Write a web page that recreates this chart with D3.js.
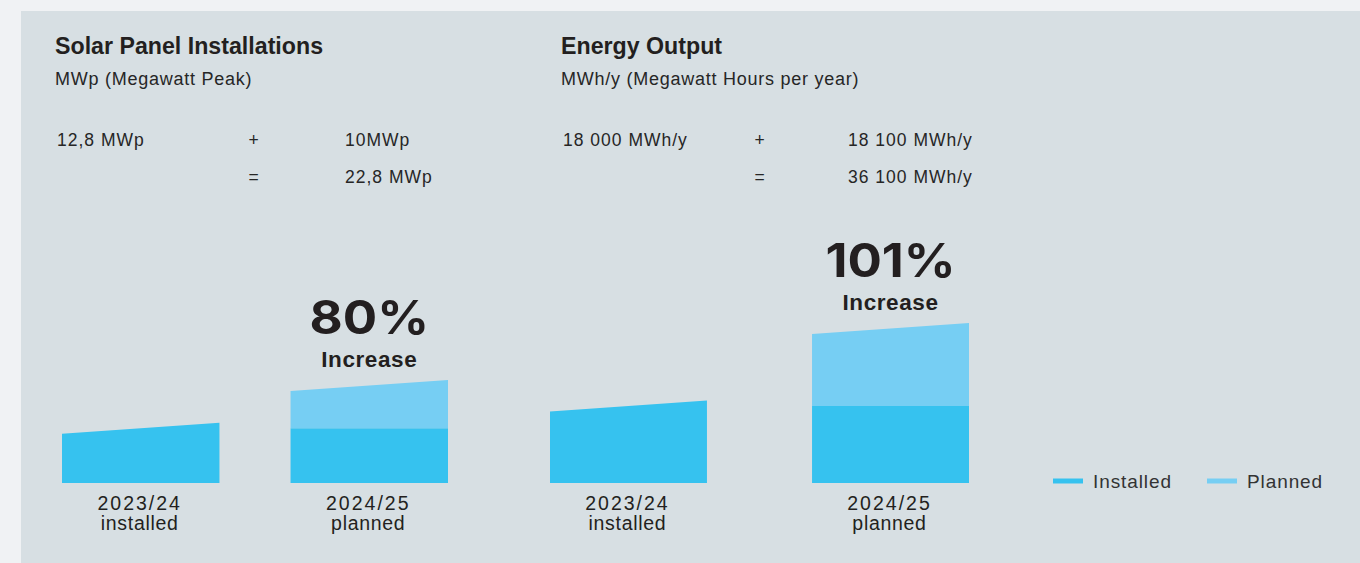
<!DOCTYPE html>
<html>
<head>
<meta charset="utf-8">
<script src="https://cdn.jsdelivr.net/npm/d3@7"></script>
<style>
  body { margin: 0; background: #f0f2f4; overflow: hidden; }
</style>
</head>
<body>
<div id="vizcontainer"></div>
<script>
// ---- data ----
const periods = ['2023/24', '2024/25'];
const statuses = ['installed', 'planned'];
const series = ['Installed', 'Planned'];

const titles = ['Solar Panel Installations', 'Energy Output'];
const subtitles = ['MWp (Megawatt Peak)', 'MWh/y (Megawatt Hours per year)'];

const solarInstalled = [12.8, 12.8];
const solarPlanned = [0, 10];
const solarRows = [['12,8 MWp', '+', '10MWp'], ['', '=', '22,8 MWp']];
const solarIncrease = ['80%', 'Increase'];

const energyInstalled = [18000, 18000];
const energyPlanned = [0, 18100];
const energyRows = [['18 000 MWh/y', '+', '18 100 MWh/y'], ['', '=', '36 100 MWh/y']];
const energyIncrease = ['101%', 'Increase'];

const
  width = 1360,
  height = 563,
  baseline = 483,
  tilt = 5.5,
  colors = ['#36c2ef', '#76cef3'], // installed, planned
  font = "'Liberation Sans', Arial, sans-serif",
  ink = '#231f20'
  ;

const svg = d3.select('#vizcontainer')
  .append('svg')
  .attr('width', width)
  .attr('height', height);

svg.append('rect')
  .attr('x', 21)
  .attr('y', 11)
  .attr('width', width - 21)
  .attr('height', height - 11)
  .attr('fill', '#d7dfe3');

const color = d3.scaleOrdinal().domain(series).range(colors);

const charts = [
  { title: titles[0], subtitle: subtitles[0], rows: solarRows, increase: solarIncrease,
    installed: solarInstalled, planned: solarPlanned,
    x0: 55, xRange: [62, 448], pad: 0.311, topPx: 385.5, valCol: 290 },
  { title: titles[1], subtitle: subtitles[1], rows: energyRows, increase: energyIncrease,
    installed: energyInstalled, planned: energyPlanned,
    x0: 561, xRange: [550, 969], pad: 0.401, topPx: 328.6, valCol: 287 }
];

charts.forEach(c => {
  const g = svg.append('g');

  const totals = c.installed.map((v, i) => v + c.planned[i]);

  const x = d3.scaleBand()
    .domain(periods)
    .range(c.xRange)
    .paddingInner(c.pad)
    .paddingOuter(0);

  const y = d3.scaleLinear()
    .domain([0, d3.max(totals)])
    .range([baseline, c.topPx]);

  // headings
  g.append('text')
    .text(c.title)
    .attr('x', c.x0)
    .attr('y', 54)
    .attr('font-family', font)
    .attr('font-weight', 'bold')
    .attr('font-size', 23.2)
    .attr('fill', ink);

  g.append('text')
    .text(c.subtitle)
    .attr('x', c.x0)
    .attr('y', 85)
    .attr('font-family', font)
    .attr('font-size', 18)
    .attr('letter-spacing', 0.75)
    .attr('fill', '#262626');

  // sum rows
  const cols = [c.x0 + 2, c.x0 + 199, c.x0 + c.valCol];
  c.rows.forEach((row, r) => {
    g.append('g')
      .selectAll('text')
      .data(row)
      .join('text')
      .text(d => d)
      .attr('x', (d, i) => cols[i])
      .attr('y', 146 + r * 37)
      .attr('text-anchor', (d, i) => i == 1 ? 'middle' : 'start')
      .attr('font-family', font)
      .attr('font-size', 17.5)
      .attr('letter-spacing', 1)
      .attr('fill', '#262626');
  });

  // bars: stacked installed + planned, the top edge of the upper piece is tilted
  periods.forEach((p, i) => {
    const segs = [
      { key: series[0], y0: 0, y1: c.installed[i] },
      { key: series[1], y0: c.installed[i], y1: totals[i] }
    ].filter(s => s.y1 > s.y0);

    g.append('g')
      .selectAll('path')
      .data(segs)
      .join('path')
      .attr('d', (s, k) => {
        const x1 = x(p), x2 = x(p) + x.bandwidth();
        const t = k == segs.length - 1 ? tilt : 0;
        return d3.line()([
          [x1, y(s.y0)],
          [x1, y(s.y1) + t],
          [x2, y(s.y1) - t],
          [x2, y(s.y0)]
        ]) + 'Z';
      })
      .attr('fill', s => color(s.key));

    g.append('text')
      .attr('x', x(p) + x.bandwidth() / 2 - 1)
      .attr('y', 510)
      .attr('text-anchor', 'middle')
      .attr('font-family', font)
      .attr('font-size', 19.5)
      .attr('letter-spacing', 2)
      .attr('fill', ink)
      .text(p);

    g.append('text')
      .attr('x', x(p) + x.bandwidth() / 2 - 1)
      .attr('y', 530)
      .attr('text-anchor', 'middle')
      .attr('font-family', font)
      .attr('font-size', 19.5)
      .attr('letter-spacing', 0.7)
      .attr('fill', ink)
      .text(statuses[i]);
  });

  // increase callout above the planned bar
  const last = periods[periods.length - 1];
  const cx = x(last) + x.bandwidth() / 2;
  const top = y(d3.max(totals));

  g.append('text')
    .text(c.increase[0])
    .attr('transform', `translate(${cx},${top - 52}) scale(1.11,1)`)
    .attr('text-anchor', 'middle')
    .attr('font-family', "Inter, 'Liberation Sans', sans-serif")
    .attr('font-weight', 'bold')
    .attr('font-size', 46)
    .attr('fill', ink);

  g.append('text')
    .text(c.increase[1])
    .attr('x', cx)
    .attr('y', top - 18.5)
    .attr('text-anchor', 'middle')
    .attr('font-family', font)
    .attr('font-weight', 'bold')
    .attr('font-size', 22.5)
    .attr('letter-spacing', 0.6)
    .attr('fill', ink);
});

// legend
const legend = svg.append('g')
  .selectAll('g')
  .data(series)
  .join('g')
  .attr('transform', (d, i) => `translate(${1053 + i * 154},481)`);

legend.append('line')
  .attr('x1', 0)
  .attr('x2', 30)
  .attr('stroke', d => color(d))
  .attr('stroke-width', 5);

legend.append('text')
  .text(d => d)
  .attr('x', 40)
  .attr('y', 7)
  .attr('font-family', font)
  .attr('font-size', 19)
  .attr('letter-spacing', 0.9)
  .attr('fill', '#333');
</script>
</body>
</html>
